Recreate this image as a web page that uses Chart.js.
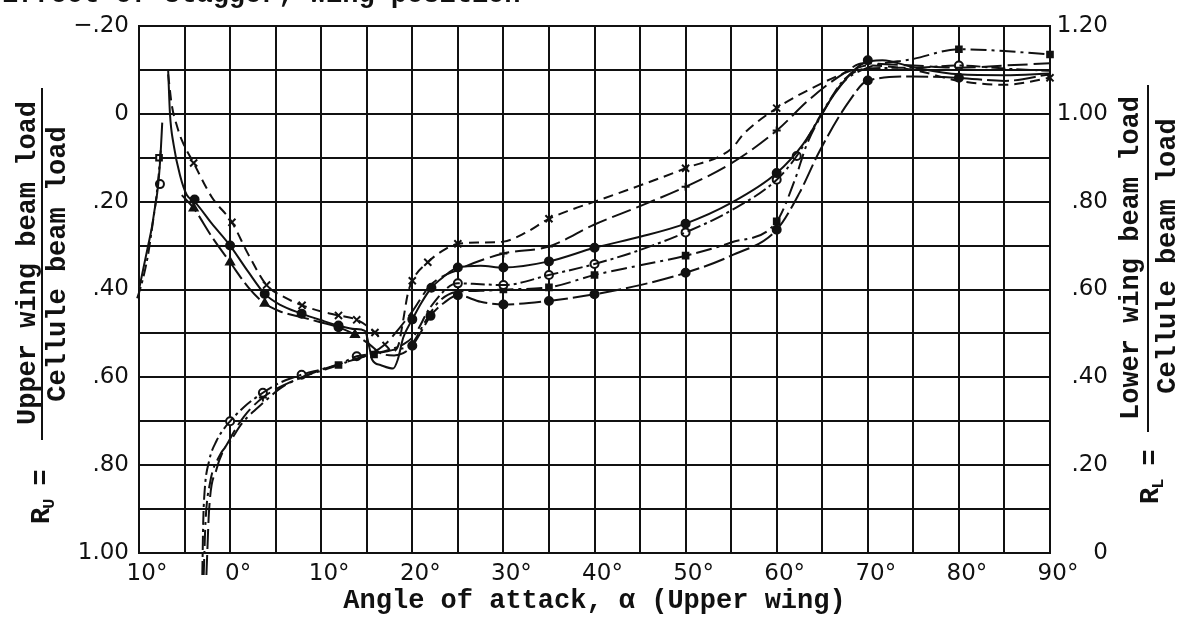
<!DOCTYPE html>
<html><head><meta charset="utf-8">
<script src="https://cdn.jsdelivr.net/npm/chart.js@4.4.1/dist/chart.umd.min.js"></script>
<style>
html,body{margin:0;padding:0;background:#fff;overflow:hidden;}
#wrap{position:relative;width:1183px;height:623px;background:#fff;overflow:hidden;}
#top{position:absolute;left:2px;top:-20px;font:bold 27px "Liberation Mono",monospace;color:#111;white-space:nowrap;}
canvas{position:absolute;left:0;top:0;}
</style></head><body>
<div id="wrap"><canvas id="c" width="1183" height="623"></canvas><div id="top">Effect of stagger; wing position</div></div>
<script>
// ---- tick labels ----
const xTickAngles = [-10, 0, 10, 20, 30, 40, 50, 60, 70, 80, 90];
const leftTickValues = [-0.2, 0, 0.2, 0.4, 0.6, 0.8, 1.0];
const rightTickValues = [0, 0.2, 0.4, 0.6, 0.8, 1.0, 1.2];

// ---- R_U curves (left axis, reversed) ----
const c1Angle = [-6.8,-6.4,-5.8,-5.3,-4.0,-2.0,0.2,2.0,4.0,6.0,7.9,10.0,11.9,13.9,15.9,17.2,17.9,18.5,19.0,19.5,20.0,21.7,23.3,25.0,27.5,30.0,32.5,35.0,37.5,40.0,45.0,50.0,55.0,56.4,60.0,65.0,68.3,70.0,75.0,80.0,85.0,90.0];
const c1Ru    = [-0.09,-0.02,0.03,0.06,0.112,0.19,0.247,0.32,0.39,0.418,0.436,0.45,0.459,0.469,0.498,0.53,0.54,0.525,0.47,0.41,0.38,0.338,0.312,0.296,0.293,0.291,0.27,0.239,0.218,0.2,0.163,0.124,0.08,0.045,-0.013,-0.07,-0.1,-0.11,-0.1,-0.075,-0.066,-0.082];

const c2Angle = [-6.8,-6.6,-6.2,-5.5,-4.75,-3.9,-2,0,2,3.8,5.5,7.85,10,11.9,13.7,14.8,15.3,15.6,16.5,17.9,18.4,19.0,20.0,21.0,22.1,23.5,25,27.5,30,35,40,45,50,55,60,62.9,66.5,69.5,71.6,75,80,85,90];
const c2Ru    = [-0.1,0.0,0.07,0.14,0.185,0.2,0.25,0.30,0.36,0.41,0.435,0.455,0.47,0.482,0.49,0.494,0.533,0.56,0.572,0.58,0.56,0.51,0.468,0.43,0.396,0.37,0.35,0.346,0.35,0.336,0.305,0.28,0.25,0.203,0.135,0.069,-0.05,-0.115,-0.122,-0.106,-0.09,-0.088,-0.092];

const c3Angle = [-5.3,-4.0,-2.0,0,2,3.8,5.5,7.85,10,11.9,13.7,15.3,16.5,18,19,20,21,22,23.5,25,27.5,30,35,40,45,50,55,60,62.5,64.7,68,70,75,80,85,90];
const c3Ru    = [0.185,0.215,0.28,0.338,0.395,0.432,0.45,0.463,0.475,0.486,0.503,0.525,0.545,0.55,0.545,0.528,0.495,0.46,0.43,0.413,0.428,0.434,0.426,0.411,0.39,0.362,0.323,0.264,0.18,0.085,-0.03,-0.076,-0.085,-0.082,-0.075,-0.09];

const a1Angle = [-10.0,-9.5,-9.0,-8.6,-8.3,-8.0,-7.8,-7.6,-7.45];
const a1Ru    = [0.40,0.35,0.30,0.26,0.22,0.18,0.14,0.08,0.02];
const a2Angle = [-13.7,-12.8,-12.0,-11.0,-10.2,-9.5,-9.0,-8.5,-8.1,-7.8,-7.6];
const a2Ru    = [0.58,0.55,0.51,0.46,0.42,0.37,0.32,0.25,0.19,0.13,0.08];

// ---- R_L curves (right axis) ----
const c4Angle = [-3.05,-2.95,-2.8,-2.3,-1.5,-0.6,0,1.5,3.6,5.5,7.85,10,11.9,13.9,15.8,17.8,19,20.2,22,25,27.5,30,35,40,45,50,55,60,62.2,65.4,67.5,70,75,80,85,90];
const c4Rl    = [-0.05,0.07,0.14,0.21,0.255,0.285,0.30,0.332,0.365,0.388,0.406,0.418,0.429,0.448,0.454,0.465,0.475,0.495,0.56,0.614,0.612,0.61,0.633,0.658,0.69,0.73,0.78,0.85,0.904,1.017,1.08,1.103,1.105,1.11,1.103,1.098];

const c5Angle = [-2.9,-2.7,-2.2,-1.2,0,1.3,3.8,5.5,7.85,10,11.9,13.5,15.5,17.8,20,21.5,22.9,25,27.5,30,35,40,45,50,55,60,62,63.3,65,67.2,70,75,80,85,90];
const c5Rl    = [-0.05,0.07,0.16,0.22,0.254,0.295,0.345,0.375,0.40,0.415,0.428,0.44,0.452,0.462,0.478,0.53,0.572,0.595,0.597,0.60,0.605,0.633,0.655,0.677,0.707,0.755,0.85,0.93,1.0,1.07,1.105,1.125,1.147,1.143,1.135];

const c6Angle = [-2.6,-2.3,-1.5,0,1.5,3.6,7.85,11.9,15,17,18.5,20,22,25,30,35,40,45,50,55,60,63.6,67.2,69.5,75,80,85,90];
const c6Rl    = [-0.05,0.10,0.19,0.26,0.31,0.354,0.40,0.43,0.45,0.475,0.51,0.55,0.61,0.645,0.682,0.698,0.748,0.79,0.834,0.887,0.962,1.033,1.09,1.115,1.11,1.105,1.11,1.115];

// ---- plotted test points ----
const m1Angle = [-4.0,0.2,4.0,7.9,11.9,13.9,15.9,20.0,21.7,25.0,35.0,50.0,60.0,90.0];
const m1Ru    = [0.112,0.247,0.39,0.436,0.459,0.469,0.498,0.38,0.338,0.296,0.239,0.124,-0.013,-0.082];
const m2Angle = [-3.9,0,3.8,7.85,11.9,20,22.1,25,30,35,40,50,60,70];
const m2Ru    = [0.195,0.30,0.41,0.455,0.482,0.468,0.396,0.35,0.35,0.336,0.305,0.25,0.135,-0.122];
const m3tAngle = [-4.0,0,3.8,13.7];
const m3tRu    = [0.215,0.338,0.432,0.503];
const m3Angle = [11.9,20,22,25,30,35,40,50,60,70,80];
const m3Ru    = [0.486,0.528,0.46,0.413,0.434,0.426,0.411,0.362,0.264,-0.076,-0.082];
const m4Angle = [0,3.6,7.85,13.9,25,30,35,40,50,60,62.2,80];
const m4Rl    = [0.30,0.365,0.406,0.448,0.614,0.61,0.633,0.658,0.73,0.85,0.904,1.11];
const m5Angle = [11.9,15.8,30,35,40,50,60,80,90];
const m5Rl    = [0.428,0.452,0.60,0.605,0.633,0.677,0.755,1.147,1.135];
const m6Angle = [3.6,30,35,50,60];
const m6Rl    = [0.354,0.682,0.698,0.834,0.962];
const maoAngle = [-7.7]; const maoRu = [0.16];
const masAngle = [-7.8]; const masRu = [0.10];

const INK = '#111';
function pts(xs, ys){ return xs.map((x,i)=>({x:x, y:ys[i]})); }
function curve(xs, ys, axis, dash, width){
  return {data: pts(xs,ys), yAxisID: axis, showLine: true, borderColor: INK, borderWidth: width||2,
    borderDash: dash, pointRadius: 0, cubicInterpolationMode: 'monotone', clip: false};
}
function marks(xs, ys, axis, style, fill, r){
  return {data: pts(xs,ys), yAxisID: axis, showLine: false, pointStyle: style, pointRadius: r,
    backgroundColor: fill, borderColor: INK, borderWidth: 2, clip: false};
}
function fmt(v, labels){
  const r = Math.round(v*100);
  if (!labels.some(t => Math.round(t*100) === r)) return '';
  if (r === 0) return '0';
  if (r < 0) return '\u2212.' + String(-r).padStart(2,'0');
  if (r >= 100) return (r/100).toFixed(2);
  return '.' + String(r).padStart(2,'0');
}

const axisTitles = {
  id: 'axisTitles',
  afterDraw(chart){
    const ctx = chart.ctx;
    ctx.save();
    ctx.fillStyle = INK; ctx.strokeStyle = INK; ctx.lineWidth = 2;
    const F = 'bold 27px "Liberation Mono", monospace';
    const FS = 'bold 17px "Liberation Mono", monospace';
    function vtext(t, x, y){ ctx.save(); ctx.translate(x,y); ctx.rotate(-Math.PI/2); ctx.font=F; ctx.textAlign='center'; ctx.textBaseline='middle'; ctx.fillText(t,0,0); ctx.restore(); }
    function vline(x, y1, y2){ ctx.beginPath(); ctx.moveTo(x,y1); ctx.lineTo(x,y2); ctx.stroke(); }
    function req(sub, x, y){
      ctx.save(); ctx.translate(x,y); ctx.rotate(-Math.PI/2); ctx.textAlign='left'; ctx.textBaseline='alphabetic';
      ctx.font=F; ctx.fillText('R',0,0); const w=ctx.measureText('R').width;
      ctx.font=FS; ctx.fillText(sub,w-1,5); const w2=ctx.measureText(sub).width;
      ctx.font=F; ctx.fillText('=',w+w2+12,0); ctx.restore();
    }
    vtext('Upper wing beam load', 28, 263);
    vline(42, 88, 440);
    vtext('Cellule beam load', 58, 264);
    req('U', 49, 524);
    vtext('Lower wing beam load', 1131, 258);
    vline(1148, 85, 432);
    vtext('Cellule beam load', 1168, 256);
    req('L', 1158, 504);
    ctx.restore();
  }
};

new Chart(document.getElementById('c'), {
  type: 'scatter',
  data: { datasets: [
    curve(a1Angle, a1Ru, 'yL', [], 2),
    curve(a2Angle, a2Ru, 'yL', [12,4,3,4], 2),
    curve(c1Angle, c1Ru, 'yL', [10,6], 2),
    curve(c2Angle, c2Ru, 'yL', [], 2),
    curve(c3Angle, c3Ru, 'yL', [22,5], 2),
    curve(c4Angle, c4Rl, 'yR', [14,4,3,4], 2),
    curve(c5Angle, c5Rl, 'yR', [16,5,3,5], 2),
    curve(c6Angle, c6Rl, 'yR', [20,6], 2),
    marks(m1Angle, m1Ru, 'yL', 'crossRot', INK, 5),
    marks(m2Angle, m2Ru, 'yL', 'circle', INK, 4),
    marks(m3tAngle, m3tRu, 'yL', 'triangle', INK, 4.5),
    marks(m3Angle, m3Ru, 'yL', 'circle', INK, 4),
    marks(m4Angle, m4Rl, 'yR', 'circle', '#fff', 4),
    marks(m5Angle, m5Rl, 'yR', 'rect', INK, 4),
    marks(m6Angle, m6Rl, 'yR', 'cross', INK, 4),
    marks(maoAngle, maoRu, 'yL', 'circle', '#fff', 4),
    marks(masAngle, masRu, 'yL', 'rect', '#fff', 4)
  ]},
  options: {
    responsive: false, animation: false, devicePixelRatio: 1,
    layout: { padding: { top: 26, left: 0, right: 75, bottom: 0 } },
    plugins: { legend: { display: false }, tooltip: { enabled: false } },
    scales: {
      x: { type: 'linear', min: -10, max: 90,
        ticks: { stepSize: 5, autoSkip: false, maxRotation: 0, labelOffset: 8, padding: 7, color: INK,
          font: { family: 'DejaVu Sans', size: 23 },
          callback: v => { const r = Math.round(v); return xTickAngles.includes(r) ? Math.abs(r) + '\u00b0' : ''; } },
        grid: { color: INK, lineWidth: 2, drawTicks: false },
        border: { color: INK, width: 2 },
        title: { display: true, text: 'Angle of attack, \u03b1 (Upper wing)', color: INK,
          font: { family: 'Liberation Mono', size: 27, weight: 'bold' }, padding: { top: 0, bottom: 6 } },
        afterFit: s => { s.height = 70; }
      },
      yL: { position: 'left', min: -0.2, max: 1.0, reverse: true,
        ticks: { stepSize: 0.1, padding: 10, color: INK, font: { family: 'DejaVu Sans', size: 23 },
          callback: v => fmt(v, leftTickValues) },
        grid: { color: INK, lineWidth: 2, drawTicks: false },
        border: { color: INK, width: 2 },
        afterFit: s => { s.width = 139; }
      },
      yR: { position: 'right', min: 0, max: 1.2,
        ticks: { stepSize: 0.1, padding: 8, crossAlign: 'far', color: INK, font: { family: 'DejaVu Sans', size: 23 },
          callback: v => fmt(v, rightTickValues) },
        grid: { display: false, drawTicks: false },
        border: { color: INK, width: 2 },
        afterFit: s => { s.width = 58; }
      }
    }
  },
  plugins: [axisTitles]
});
</script>
</body></html>
